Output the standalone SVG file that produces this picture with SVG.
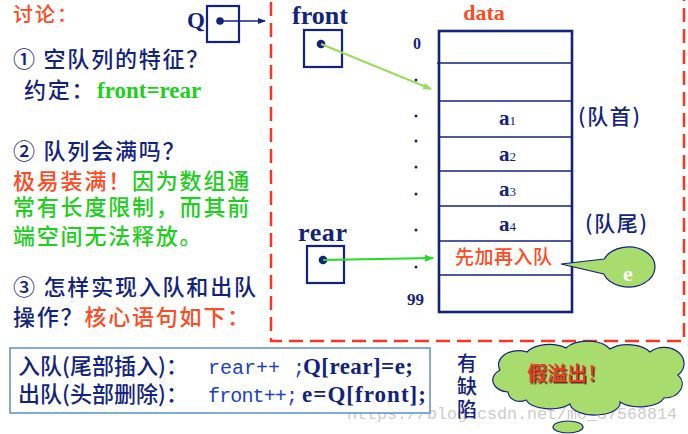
<svg xmlns="http://www.w3.org/2000/svg" width="688" height="434" viewBox="0 0 688 434">
<style>
.cjk{font-family:"Noto Sans CJK SC","Noto Sans",sans-serif;font-weight:500;}
.lc{font-size:22px;letter-spacing:1.8px;}
.navy{fill:#13237d;}
.red{fill:#ff4a22;}
.green{fill:#1ecf1e;}
.bs{font-family:"Liberation Serif",serif;font-weight:bold;}
.mono{font-family:"Liberation Mono",monospace;}
.box{fill:#fff;stroke:#13237d;stroke-width:2.2;}
.dot{fill:#13237d;}
.row{stroke:#13237d;stroke-width:1.5;}
</style>
<defs>
<marker id="mNavy" markerWidth="8" markerHeight="8" refX="7" refY="4" orient="auto" markerUnits="userSpaceOnUse"><path d="M0,1 L8,4 L0,7 Z" fill="#13237d"/></marker>
<marker id="mLight" markerWidth="9" markerHeight="8" refX="8" refY="4" orient="auto" markerUnits="userSpaceOnUse"><path d="M0,0.5 L9,4 L0,7.5 Z" fill="#9bdc5e"/></marker>
<marker id="mGreen" markerWidth="9" markerHeight="8" refX="8" refY="4" orient="auto" markerUnits="userSpaceOnUse"><path d="M0,0.5 L9,4 L0,7.5 Z" fill="#22dd22"/></marker>
<filter id="shadow" x="-10%" y="-20%" width="130%" height="150%"><feDropShadow dx="1.5" dy="1.5" stdDeviation="0.3" flood-color="#5a2a1a" flood-opacity="1"/></filter>
</defs>
<rect width="688" height="434" fill="#fff"/>

<!-- dashed frame -->
<rect x="271" y="-20" width="413" height="361" fill="none" stroke="#ff3322" stroke-width="2.5" stroke-dasharray="14 7"/>

<!-- watermark -->
<text x="347" y="419" class="mono" fill="#cccccc" font-size="16.7" textLength="330">https://blog.csdn.net/m0_37568814</text>

<!-- left discussion text -->
<g id="discussion">
<text x="13" y="22" class="cjk red" font-size="20" letter-spacing="2">讨论：</text>
<text x="13" y="67" class="cjk navy lc">① 空队列的特征？</text>
<text x="24" y="98" class="cjk navy lc">约定：</text>
<text x="97" y="98" class="bs green" font-size="23">front=rear</text>
<text x="13" y="159" class="cjk navy lc">② 队列会满吗？</text>
<text x="13" y="189" class="cjk lc"><tspan class="red">极易装满！</tspan><tspan class="green">因为数组通</tspan></text>
<text x="13" y="215" class="cjk green lc">常有长度限制，而其前</text>
<text x="13" y="244" class="cjk green lc">端空间无法释放。</text>
<text x="13" y="295" class="cjk navy lc">③ 怎样实现入队和出队</text>
<text x="13" y="325" class="cjk lc"><tspan class="navy">操作？</tspan><tspan class="red">核心语句如下：</tspan></text>
</g>

<!-- Q pointer -->
<g id="Q">
<text x="187" y="28" class="bs navy" font-size="23">Q</text>
<rect x="207" y="6" width="32" height="36" class="box"/>
<circle cx="220" cy="21" r="3.8" class="dot"/>
</g>

<!-- front pointer -->
<g id="front">
<text x="292" y="24" class="bs navy" font-size="26">front</text>
<rect x="304" y="30" width="38" height="37" class="box"/>
<circle cx="321" cy="44" r="4.3" class="dot"/>
</g>

<!-- rear pointer -->
<g id="rear">
<text x="298" y="241" class="bs navy" font-size="26" letter-spacing="0.6">rear</text>
<rect x="307" y="246" width="37" height="37" class="box"/>
<circle cx="323" cy="260" r="4.3" class="dot"/>
</g>

<!-- data array -->
<g id="data">
<text x="484" y="20" class="bs red" font-size="22" text-anchor="middle">data</text>
<rect x="439" y="31" width="133" height="281" fill="#fff" stroke="#13237d" stroke-width="2.6"/>
<line x1="437" y1="63" x2="572" y2="63" class="row"/>
<line x1="439" y1="101" x2="572" y2="101" class="row"/>
<line x1="439" y1="137" x2="572" y2="137" class="row"/>
<line x1="439" y1="171" x2="572" y2="171" class="row"/>
<line x1="439" y1="206" x2="572" y2="206" class="row"/>
<line x1="439" y1="241" x2="572" y2="241" class="row"/>
<line x1="439" y1="275" x2="572" y2="275" class="row"/>
<text x="499" y="125" class="bs navy" font-size="21">a<tspan font-size="13" font-weight="normal">1</tspan></text>
<text x="499" y="161" class="bs navy" font-size="21">a<tspan font-size="13" font-weight="normal">2</tspan></text>
<text x="499" y="196" class="bs navy" font-size="21">a<tspan font-size="13" font-weight="normal">3</tspan></text>
<text x="499" y="231" class="bs navy" font-size="21">a<tspan font-size="13" font-weight="normal">4</tspan></text>
<text x="455" y="264" class="cjk red" font-size="19" textLength="97">先加再入队</text>
<text x="578" y="124" class="cjk navy" font-size="21" textLength="62">(队首)</text>
<text x="585" y="231" class="cjk navy" font-size="21" textLength="62">(队尾)</text>
</g>

<!-- indices -->
<g id="indices">
<text x="413" y="49" class="bs navy" font-size="16">0</text>
<circle cx="416" cy="80" r="1.5" class="dot"/>
<circle cx="416" cy="116" r="1.5" class="dot"/>
<circle cx="416" cy="141" r="1.5" class="dot"/>
<circle cx="416" cy="167" r="1.5" class="dot"/>
<circle cx="416" cy="194" r="1.5" class="dot"/>
<circle cx="416" cy="230" r="1.5" class="dot"/>
<circle cx="416" cy="267" r="1.5" class="dot"/>
<text x="407" y="305" class="bs navy" font-size="17">99</text>
</g>

<!-- callout e -->
<g id="callout-e">
<path d="M561 264 L604.2 259 A26.5 20 0 1 1 603.7 274 Z" fill="#a8dc6c" stroke="#13237d" stroke-width="1.2"/>
<text x="628" y="281" class="bs" fill="#fff" font-size="22" text-anchor="middle">e</text>
</g>

<!-- connectors -->
<g id="connectors">
<line x1="220" y1="21" x2="265" y2="21" stroke="#13237d" stroke-width="1.5" marker-end="url(#mNavy)"/>
<line x1="321" y1="44" x2="431" y2="89" stroke="#9bdc5e" stroke-width="2" marker-end="url(#mLight)"/>
<line x1="323" y1="260" x2="433" y2="258" stroke="#22dd22" stroke-width="2" marker-end="url(#mGreen)"/>
</g>

<!-- code box -->
<g id="code">
<rect x="10" y="348" width="420" height="65" fill="#fff" stroke="#5b8fc7" stroke-width="1.5"/>
<text x="18" y="374" class="cjk navy" font-size="22" textLength="170">入队(尾部插入)：</text>
<text x="208" y="374" class="mono" fill="#2040c8" font-size="20">rear++</text>
<text x="293" y="374" class="mono" fill="#2040c8" font-size="20">;</text>
<text x="303" y="374" class="bs navy" font-size="23" textLength="110">Q[rear]=e;</text>
<text x="18" y="402" class="cjk navy" font-size="22" textLength="170">出队(头部删除)：</text>
<text x="208" y="402" class="mono" fill="#2040c8" font-size="20" textLength="90">front++;</text>
<text x="302" y="402" class="bs navy" font-size="23" textLength="124">e=Q[front];</text>
</g>

<!-- defect -->
<g id="defect">
<text x="457" y="371" class="cjk navy" font-size="20">有</text>
<text x="457" y="394" class="cjk navy" font-size="20">缺</text>
<text x="457" y="417" class="cjk navy" font-size="20">陷</text>
</g>

<!-- cloud -->
<g id="cloud">
<path d="M508 392 A16 12 0 0 1 500 370 A20 14 0 0 1 527 352 A25 14 0 0 1 566 348 A25 14 0 0 1 610 349 A25 14 0 0 1 650 352 A20 16 0 0 1 678 375 A18 14 0 0 1 664 398 A25 12 0 0 1 620 402 A25 12 0 0 1 570 404 A25 12 0 0 1 526 400 A12 10 0 0 1 508 392 Z" fill="#a8dc6c" stroke="#13237d" stroke-width="1.2"/>
<ellipse cx="568" cy="427" rx="15" ry="6" fill="#a8dc6c" stroke="#13237d" stroke-width="1.2"/>
<text x="527" y="381" class="cjk" fill="#f03a20" font-size="20" font-weight="bold" filter="url(#shadow)">假溢出！</text>
</g>
</svg>
